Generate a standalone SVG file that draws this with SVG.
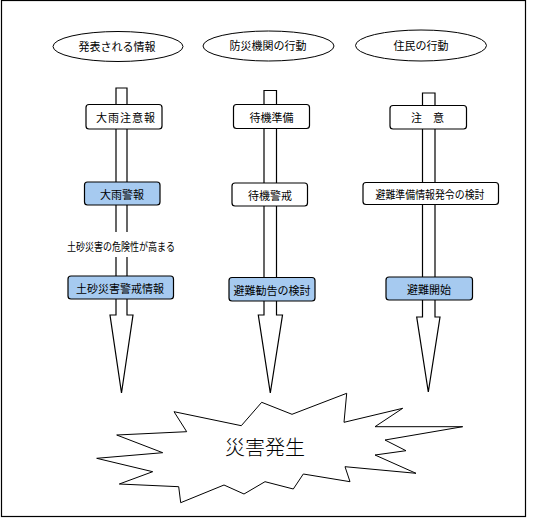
<svg xmlns="http://www.w3.org/2000/svg" width="548" height="518" viewBox="0 0 548 518">
<style>
text{font-family:"Noto Sans CJK JP","Noto Sans CJK SC",sans-serif;font-size:11px;fill:#000;text-anchor:middle;dominant-baseline:central}
.hd{fill:#fff;stroke:#000;stroke-width:1}
.bx{fill:#fff;stroke:#000;stroke-width:1.2}
.bl{fill:#a6caf0;stroke:#000;stroke-width:1.2}
.ar{fill:#fff;stroke:#000;stroke-width:1.2;stroke-linejoin:miter}
.big{font-size:20px;font-weight:300}
</style>
<rect x="0" y="0" width="548" height="518" fill="#fff"/>
<rect x="1.5" y="0.5" width="524" height="516" fill="none" stroke="#000" stroke-width="1.2"/>
<g id="header1"><ellipse class="hd" cx="118" cy="46.5" rx="65" ry="15"/><text x="117" y="45.5">発表される情報</text></g>
<g id="header2"><ellipse class="hd" cx="268.5" cy="46" rx="65.5" ry="15"/><text x="268" y="45">防災機関の行動</text></g>
<g id="header3"><ellipse class="hd" cx="421" cy="45.5" rx="65.5" ry="15.5"/><text x="421" y="45">住民の行動</text></g>
<g id="connectors">
<polygon class="ar" points="116,88 127,88 127,315 133,315 121.5,393 110,315 116,315"/>
<polygon class="ar" points="264,90.5 276.5,90.5 276.5,315 282.5,315 270.3,393 258.3,315 264,315"/>
<polygon class="ar" points="422.5,93 435,93 435,317 440,317 428.3,392 416.7,317 422.5,317"/>
</g>
<g id="n1"><rect class="bx" x="86" y="104.5" width="76" height="24.5" rx="3"/><text x="126" y="116.5" letter-spacing="1">大雨注意報</text></g>
<g id="n2"><rect class="bx" x="233.5" y="104.5" width="76" height="24" rx="3"/><text x="271.5" y="116.5">待機準備</text></g>
<g id="n3"><rect class="bx" x="390" y="105.5" width="76.5" height="23.5" rx="3"/><text x="427.5" y="117">注　意</text></g>
<g id="n4"><rect class="bl" x="84.5" y="182" width="75.5" height="23" rx="3"/><text x="122" y="193.5">大雨警報</text></g>
<g id="n5"><rect class="bx" x="232" y="183" width="75.5" height="23" rx="3"/><text x="270" y="195">待機警戒</text></g>
<g id="n6"><rect class="bx" x="363" y="182.5" width="135.5" height="22" rx="3"/><text x="430" y="194" font-size="10.5" textLength="109" lengthAdjust="spacingAndGlyphs">避難準備情報発令の検討</text></g>
<g id="n7"><rect fill="#fff" x="111" y="232" width="22" height="25"/><text x="121" y="245.5" font-size="10" textLength="108" lengthAdjust="spacingAndGlyphs">土砂災害の危険性が高まる</text></g>
<g id="n8"><rect class="bl" x="68" y="276" width="105.5" height="23" rx="3"/><text x="120" y="288">土砂災害警戒情報</text></g>
<g id="n9"><rect class="bl" x="229" y="277.5" width="86" height="23.5" rx="3"/><text x="272" y="289.5">避難勧告の検討</text></g>
<g id="n10"><rect class="bl" x="386" y="277" width="86.5" height="23" rx="3"/><text x="429" y="288.5">避難開始</text></g>
<g id="disaster">
<polygon fill="#fff" stroke="#000" stroke-width="1" points="174,411.7 241.3,425.7 261.7,402.3 292,414.3 346.7,393.3 344,422.3 402.7,408.3 375,426.7 462.7,426.7 385,440 406,450.7 375,455 416,473.3 345,466.7 350,481.7 303.3,474 293.3,489 265,481.7 244,494 224,485 180.7,502.7 178.7,486.7 119.3,484 152.7,471.7 96.7,458.3 162.7,452.7 116.7,435 186.7,431.7"/>
<text class="big" x="265" y="446">災害発生</text>
</g>
</svg>
